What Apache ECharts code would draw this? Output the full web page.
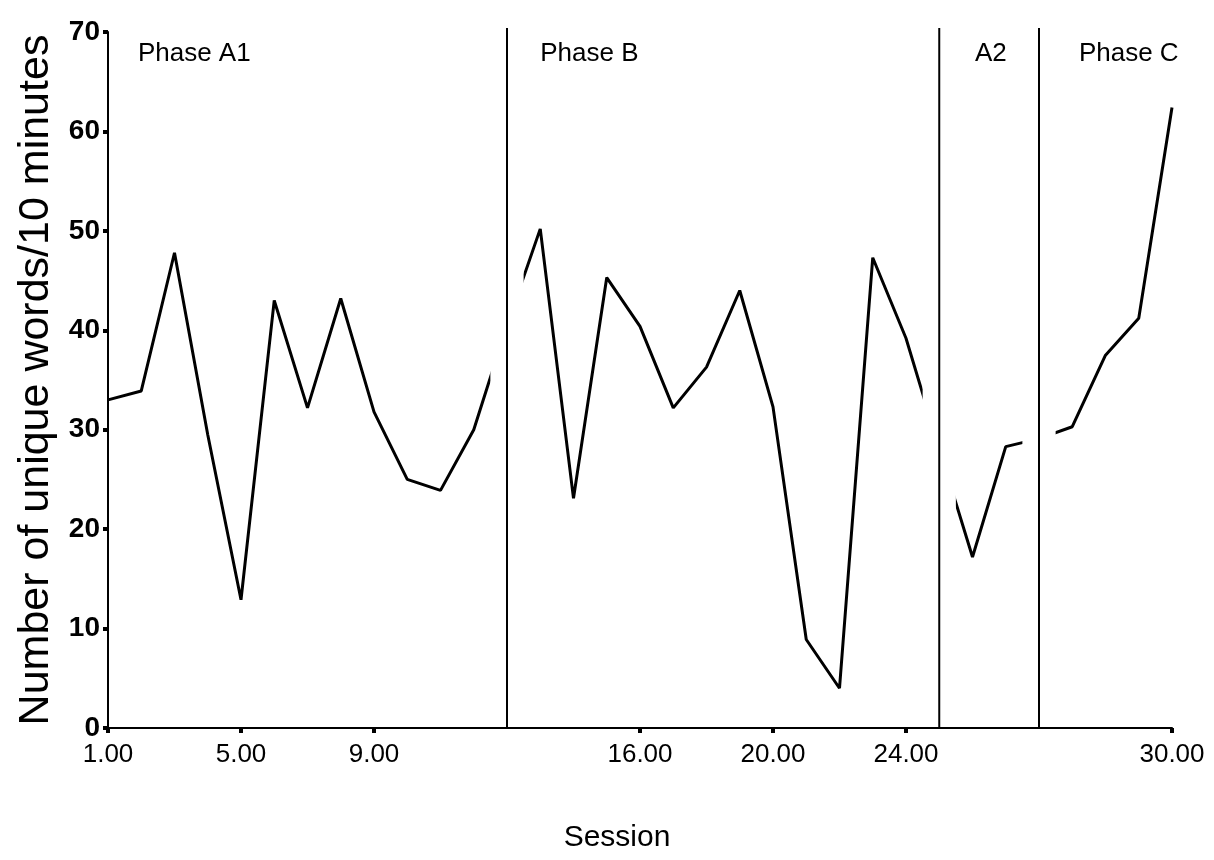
<!DOCTYPE html>
<html>
<head>
<meta charset="utf-8">
<script src="https://cdn.jsdelivr.net/npm/echarts@6/dist/echarts.min.js"></script>
<style>
  html, body { margin: 0; padding: 0; background: #fff; }
  #container { width: 1214px; height: 860px; }
</style>
</head>
<body>
<div id="container"></div>
<script>
  // one slot per session, plus an empty slot where each phase changes
  const sessionBySlot = [1, 2, 3, 4, 5, 6, 7, 8, 9, 10, 11, 12, null,
    13, 14, 15, 16, 17, 18, 19, 20, 21, 22, 23, 24, null,
    25, 26, null, 27, 28, 29, 30];
  // value under the phase line slots is hidden by the white band
  const uniqueWords = [33.0, 33.9, 47.8, 29.5, 12.9, 43.0, 32.2, 43.2, 31.8, 25.0, 23.9, 30.0, 40.5,
    50.2, 23.1, 45.3, 40.4, 32.2, 36.3, 44.0, 32.3, 8.9, 4.0, 47.3, 39.2, 28.1,
    17.2, 28.3, 29.1, 30.3, 37.5, 41.2, 62.4];
  const phaseChangeSlots = [12, 25, 28];
  const phaseNames = ['Phase A1', 'Phase B', 'A2', 'Phase C'];
  const tickSlots = [0, 4, 8, 16, 20, 24, 32];
  const yTicks = [0, 10, 20, 30, 40, 50, 60, 70];

  const font = "'Liberation Sans Narrow', 'Arial Narrow', 'Liberation Sans', Arial, sans-serif";

  let chart = echarts.init(document.getElementById('container'));

  // where the phase names sit (slot, value, align)
  const labelAnchors = [[0.9, 67.8, 'left'], [13.0, 67.8, 'left'], [26.55, 67.8, 'center'], [30.7, 67.8, 'center']];

  let option = {
    animation: false,
    grid: { left: 108, right: 42, top: 32, bottom: 132 },
    xAxis: {
      type: 'value',
      min: 0,
      max: sessionBySlot.length - 1,
      z: 10,
      name: 'Session',
      nameLocation: 'middle',
      nameGap: 95,
      nameTextStyle: { fontFamily: font, fontSize: 30, color: '#000', padding: [0, 46, 0, 0] },
      splitLine: { show: false },
      axisLine: { lineStyle: { color: '#000', width: 2 } },
      axisTick: { customValues: tickSlots, length: 5, lineStyle: { color: '#000', width: 4 } },
      axisLabel: {
        customValues: tickSlots,
        margin: 14,
        fontFamily: font,
        fontSize: 26,
        color: '#000',
        formatter: function (v) {
          let s = sessionBySlot[Math.round(v)];
          return s == null ? '' : s.toFixed(2);
        }
      }
    },
    yAxis: {
      type: 'value',
      min: 0,
      max: 70,
      interval: 10,
      z: 10,
      name: 'Number of unique words/10 minutes',
      nameLocation: 'middle',
      nameGap: 44,
      nameTextStyle: { fontFamily: font, fontSize: 43, color: '#000' },
      splitLine: { show: false },
      axisLine: { show: true, lineStyle: { color: '#000', width: 2 } },
      axisTick: { length: 5, lineStyle: { color: '#000', width: 4 } },
      axisLabel: {
        customValues: yTicks,
        margin: 8,
        fontFamily: font,
        fontSize: 28,
        fontWeight: 'bold',
        color: '#000'
      }
    },
    series: [
      {
        name: 'words',
        type: 'line',
        z: 2,
        symbol: 'none',
        lineStyle: { color: '#000', width: 3 },
        data: uniqueWords.map((v, i) => [i, v])
      },
      {
        name: 'phase lines',
        type: 'custom',
        z: 3,
        data: phaseChangeSlots.map(s => [s]),
        renderItem: function (params, api) {
          let x = api.value(0);
          let tl = api.coord([x - 0.5, 70]);
          let br = api.coord([x + 0.5, 0]);
          let top = api.coord([x, 70]);
          let bottom = api.coord([x, 0]);
          return {
            type: 'group',
            children: [
              {
                type: 'rect',
                shape: { x: tl[0], y: tl[1] - 6, width: br[0] - tl[0], height: br[1] - tl[1] + 5 },
                style: { fill: '#fff' }
              },
              {
                type: 'line',
                shape: { x1: top[0], y1: top[1] - 4, x2: bottom[0], y2: bottom[1] },
                style: { stroke: '#000', lineWidth: 2 }
              }
            ]
          };
        }
      },
      {
        name: 'phase names',
        type: 'scatter',
        z: 4,
        symbol: 'circle',
        symbolSize: 1,
        itemStyle: { color: 'rgba(0,0,0,0)' },
        silent: true,
        data: phaseNames.map((n, i) => ({
          name: n,
          value: [labelAnchors[i][0], labelAnchors[i][1]],
          label: { align: labelAnchors[i][2], color: '#000' }
        })),
        label: {
          show: true,
          position: 'inside',
          formatter: '{b}',
          fontFamily: font,
          fontSize: 26,
          color: '#000',
          opacity: 1,
          textBorderWidth: 0
        }
      }
    ]
  };

  chart.setOption(option);
</script>
</body>
</html>
